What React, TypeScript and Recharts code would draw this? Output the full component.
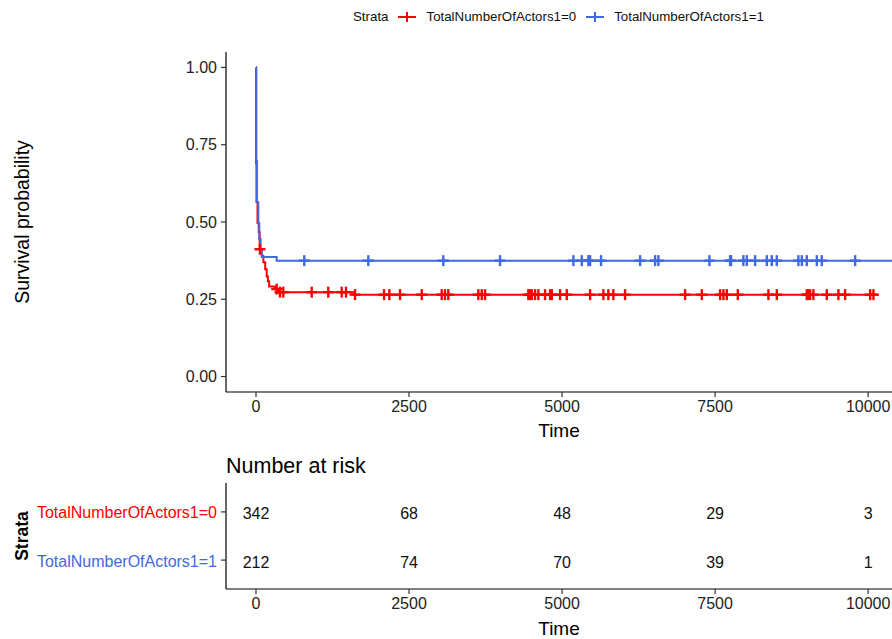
import React from 'react';
import { ComposedChart, Line, Scatter, XAxis, YAxis, Label } from 'recharts';

const FONT = '"Liberation Sans", Arial, Helvetica, sans-serif';
const RED = '#FF0000';
const BLUE = '#4169E1';

// strata names
const strata = ['TotalNumberOfActors1=0', 'TotalNumberOfActors1=1'];
const timeTicks = [0, 2500, 5000, 7500, 10000];
const survTicks = [0, 0.25, 0.5, 0.75, 1];

// Kaplan-Meier step points (time where the step starts, survival after it)
const redTimes = [0, 2, 8, 25, 45, 60, 95, 120, 150, 175, 195, 215, 310, 360, 1600, 10160];
const redSurv = [1.0, 0.69, 0.565, 0.497, 0.467, 0.412, 0.39, 0.37, 0.347, 0.324, 0.308, 0.291, 0.283, 0.273, 0.265, 0.265];
const blueTimes = [0, 4, 15, 38, 54, 75, 95, 338, 10390];
const blueSurv = [1.0, 0.698, 0.564, 0.496, 0.445, 0.41, 0.387, 0.375, 0.375];

// censored times
const redCensor = [65, 338, 392, 446, 910, 1181, 1400, 1471, 1618, 2092, 2178, 2353, 2708, 3034, 3088, 3142,
  3632, 3688, 3742, 4449, 4477, 4505, 4559, 4613, 4722, 4804, 4832, 4967, 5077, 5458, 5675, 5756, 5838, 6029,
  7010, 7283, 7582, 7636, 7691, 7871, 8371, 8508, 8998, 9025, 9052, 9106, 9325, 9515, 9624, 10033, 10087];
const blueCensor = [789, 1835, 3060, 3987, 5185, 5322, 5430, 5458, 5637, 6275, 6520, 6574, 7407, 7745, 7761,
  7962, 8018, 8154, 8345, 8426, 8508, 8861, 8917, 8998, 9162, 9243, 9788];

// number at risk at the time ticks
const riskRed = [342, 68, 48, 29, 3];
const riskBlue = [212, 74, 70, 39, 1];

const toSteps = (times: number[], surv: number[]) => times.map((t, i) => ({ t, s: surv[i] }));
// survival level in effect at time t (the step the censor mark sits on)
const levelAt = (times: number[], surv: number[], t: number) => {
  let s = surv[0];
  times.forEach((tt, i) => { if (tt <= t) s = surv[i]; });
  return s;
};

const redLine = toSteps(redTimes, redSurv);
const blueLine = toSteps(blueTimes, blueSurv);
const redMarks = redCensor.map(t => ({ t, s: levelAt(redTimes, redSurv, t) }));
const blueMarks = blueCensor.map(t => ({ t, s: levelAt(blueTimes, blueSurv, t) }));
const riskRedRows = timeTicks.map((t, i) => ({ t, row: 2, n: riskRed[i] }));
const riskBlueRows = timeTicks.map((t, i) => ({ t, row: 1, n: riskBlue[i] }));

const X_DOMAIN = [-490, 10390];

const crossShape = (color: string) => (props: any) => {
  const { cx, cy } = props;
  return (
    <g stroke={color} strokeWidth={2.4}>
      <line x1={cx - 5.5} x2={cx + 5.5} y1={cy} y2={cy} />
      <line x1={cx} x2={cx} y1={cy - 5.5} y2={cy + 5.5} />
    </g>
  );
};

const riskText = (props: any) => (
  <text x={props.cx} y={props.cy} dy={2} textAnchor="middle" dominantBaseline="central" fontSize={16} fill="#111">
    {props.payload.n}
  </text>
);

const StrataTick = (props: any) => {
  const { x, y, payload } = props;
  const idx = payload.value === 2 ? 0 : 1;
  return (
    <text x={x} y={y} dy={1} textAnchor="end" dominantBaseline="central" fontSize={16} fill={idx === 0 ? RED : BLUE}>
      {strata[idx]}
    </text>
  );
};

const vTitle = (text: string, x: number, size: number, bold = false) => (props: any) => {
  const vb = props.viewBox || { y: 0, height: 0 };
  const cy = vb.y + vb.height / 2;
  return (
    <text x={x} y={cy} transform={`rotate(-90 ${x} ${cy})`} textAnchor="middle" fontSize={size}
      fontWeight={bold ? 'bold' : 'normal'} fill="#000">
      {text}
    </text>
  );
};

const axisStyle = {
  axisLine: { stroke: '#000', strokeWidth: 1.2 },
  tickLine: { stroke: '#333', strokeWidth: 1.2 },
  tickSize: 5,
  tickMargin: 4,
};

const LegendKey = ({ color }: { color: string }) => (
  <svg width={18} height={12} style={{ margin: '0 10px', display: 'block' }}>
    <line x1={0} x2={18} y1={6} y2={6} stroke={color} strokeWidth={2} />
    <line x1={9} x2={9} y1={1} y2={11} stroke={color} strokeWidth={2} />
  </svg>
);

export default function App() {
  return (
    <div style={{ position: 'absolute', left: 0, top: 0, width: 892, height: 639, background: '#fff', fontFamily: FONT, overflow: 'hidden' }}>
      <div style={{ position: 'absolute', left: 353, top: 10, display: 'flex', alignItems: 'center', fontSize: 13.3, lineHeight: '14px', color: '#111' }}>
        <span>Strata</span>
        <LegendKey color={RED} />
        <span>{strata[0]}</span>
        <LegendKey color={BLUE} />
        <span>{strata[1]}</span>
      </div>

      <div style={{ position: 'absolute', left: 0, top: 0 }}>
        <ComposedChart width={892} height={445} margin={{ top: 52, right: 0, bottom: 0, left: 0 }}>
          <XAxis type="number" dataKey="t" domain={X_DOMAIN} ticks={timeTicks} allowDataOverflow height={53}
            tick={{ fontSize: 16, fill: '#222' }} {...axisStyle}>
            <Label position="insideBottom" offset={8} value="Time" fontSize={19} fill="#000" />
          </XAxis>
          <YAxis type="number" dataKey="s" domain={[-0.05, 1.05]} ticks={survTicks} allowDataOverflow width={226}
            tickFormatter={(v: number) => v.toFixed(2)} tick={{ fontSize: 16, fill: '#222' }} {...axisStyle}>
            <Label content={vTitle('Survival probability', 29, 19.5)} />
          </YAxis>
          <Line data={redLine} dataKey="s" type="stepAfter" stroke={RED} strokeWidth={2} dot={false} isAnimationActive={false} />
          <Line data={blueLine} dataKey="s" type="stepAfter" stroke={BLUE} strokeWidth={2} dot={false} isAnimationActive={false} />
          <Scatter data={redMarks} dataKey="s" shape={crossShape(RED)} isAnimationActive={false} />
          <Scatter data={blueMarks} dataKey="s" shape={crossShape(BLUE)} isAnimationActive={false} />
        </ComposedChart>
      </div>

      <div style={{ position: 'absolute', left: 226, top: 455, fontSize: 21.5, lineHeight: '22px', color: '#000' }}>
        Number at risk
      </div>

      <div style={{ position: 'absolute', left: 0, top: 445 }}>
        <ComposedChart width={892} height={194} margin={{ top: 38, right: 0, bottom: 0, left: 0 }}>
          <XAxis type="number" dataKey="t" domain={X_DOMAIN} ticks={timeTicks} allowDataOverflow height={50}
            tick={{ fontSize: 16, fill: '#222' }} {...axisStyle}>
            <Label position="insideBottom" offset={4} value="Time" fontSize={19} fill="#000" />
          </XAxis>
          <YAxis type="number" dataKey="row" domain={[0.4, 2.6]} ticks={[2, 1]} allowDataOverflow width={226}
            tick={<StrataTick />} {...axisStyle}>
            <Label content={vTitle('Strata', 28, 17.5, true)} />
          </YAxis>
          <Scatter data={riskRedRows} dataKey="row" shape={riskText} isAnimationActive={false} />
          <Scatter data={riskBlueRows} dataKey="row" shape={riskText} isAnimationActive={false} />
        </ComposedChart>
      </div>
    </div>
  );
}
